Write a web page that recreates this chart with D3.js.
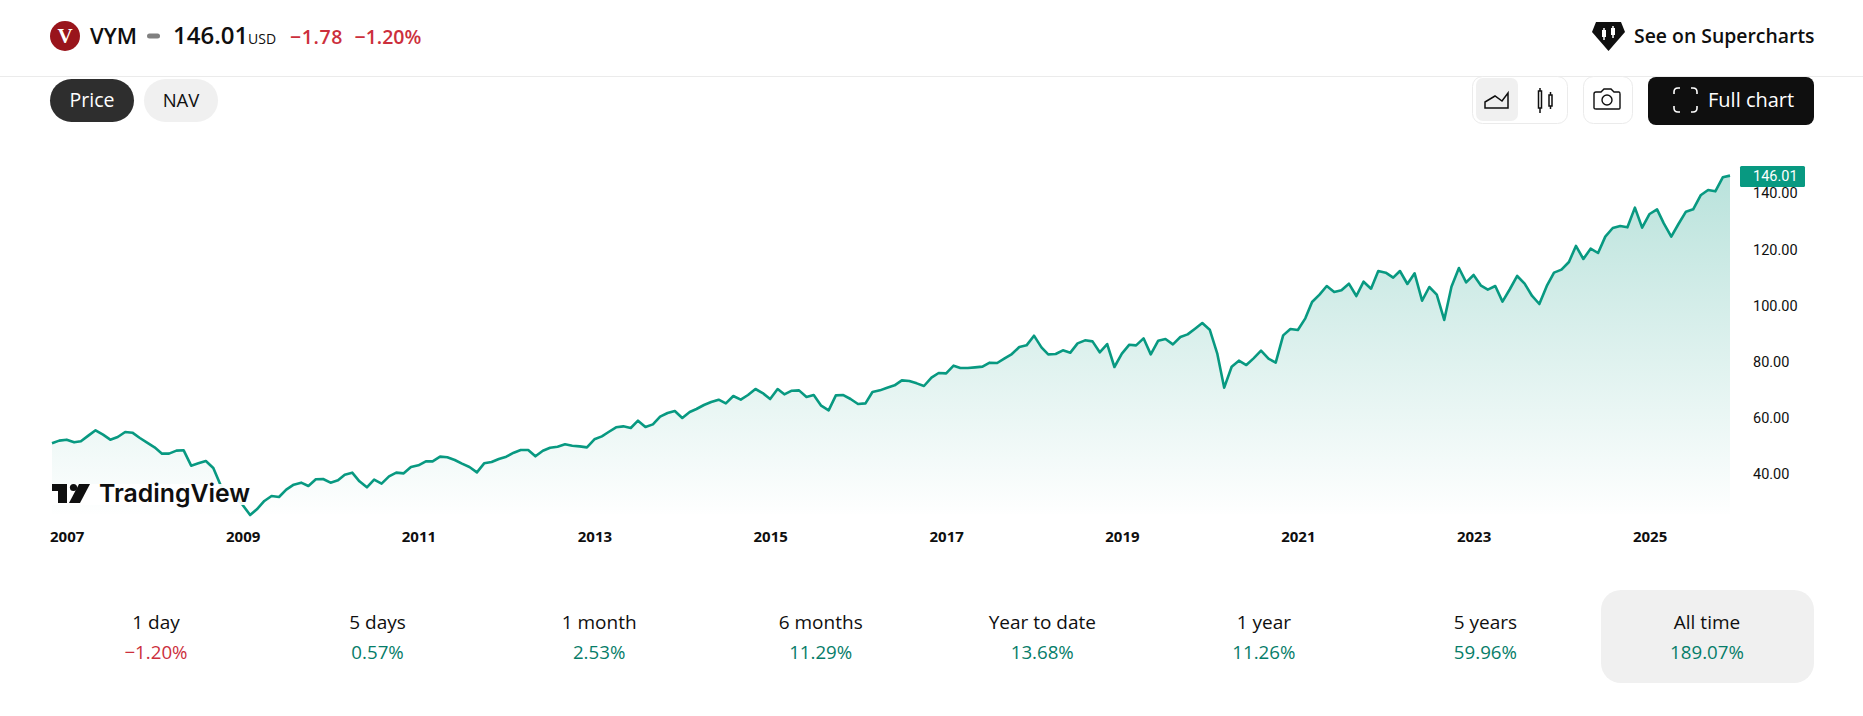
<!DOCTYPE html>
<html><head><meta charset="utf-8">
<script src="https://cdn.jsdelivr.net/npm/d3@7"></script>
<style>
html,body{margin:0;padding:0;background:#fff;width:1863px;height:716px;overflow:hidden}
svg{display:block}
text{font-family:"Open Sans","Noto Sans",sans-serif;fill:#0f0f0f}
.axis text{font-family:Roboto,"Liberation Sans",sans-serif}
</style></head><body><svg id="c" width="1863" height="716"></svg>
<script>
const prices=[50.74,51.69,52.04,51.09,51.45,53.47,55.37,53.82,52.04,52.99,54.77,54.53,52.64,50.98,49.32,47.06,47.06,48.13,48.25,42.79,43.62,44.45,41.96,35.91,32.6,31.9,28.79,25.23,27.25,30.22,32.00,31.64,34.25,36.03,36.74,35.56,37.93,38.05,36.74,37.57,39.59,40.30,37.22,35.08,37.81,36.39,39.00,40.30,40.06,42.32,42.91,44.33,44.33,45.99,45.76,44.81,43.50,42.32,40.42,43.62,44.10,45.16,
45.99,47.41,48.36,48.36,46.11,48.12,49.19,49.55,50.38,49.90,49.66,49.31,52.16,53.22,54.76,56.43,56.78,56.19,58.80,56.54,57.49,60.22,61.53,62.24,59.75,61.88,62.95,64.37,65.44,66.27,64.97,67.58,66.27,67.93,70.07,68.64,66.51,70.07,68.17,69.47,69.59,67.22,67.93,64.14,62.48,67.81,67.93,66.51,64.73,64.97,69.00,69.59,70.54,71.37,73.15,72.91,72.08,71.14,74.10,75.76,75.64,78.37,77.54,77.54,77.78,78.02,79.44,79.32,
80.98,82.52,85.01,85.61,89.05,84.89,82.40,82.52,83.83,83.00,86.32,87.39,87.03,83.12,86.08,77.90,82.64,85.84,85.61,88.10,82.40,87.27,87.86,85.96,88.57,89.52,91.54,93.55,91.18,82.76,70.54,78.01,80.15,78.61,80.98,83.71,80.86,79.44,89.16,91.42,91.06,95.21,101.03,103.64,106.72,104.59,105.18,107.55,103.16,108.26,105.77,112.06,111.47,109.69,112.06,
107.44,111.24,101.51,106.37,103.65,94.63,106.49,113.14,108.04,110.64,106.85,105.43,106.73,101.16,105.66,110.29,107.56,103.17,100.32,106.73,111.48,112.54,115.27,120.97,116.34,120.02,118.47,124.29,127.37,128.08,127.61,134.61,127.49,132.35,134.01,129.03,124.29,128.79,133.18,134.01,139.00,140.89,140.42,145.40,146.01];
const dates=prices.map((_,i)=>new Date(2006,10+i,1));
const yearTicks=[2007,2009,2011,2013,2015,2017,2019,2021,2023,2025];
const priceTicks=[40,60,80,100,120,140];
const lastPrice="146.01";
const statNames=["1 day","5 days","1 month","6 months","Year to date","1 year","5 years","All time"];
const statValues=["−1.20%","0.57%","2.53%","11.29%","13.68%","11.26%","59.96%","189.07%"];
const statUp=[false,true,true,true,true,true,true,true];

const svg=d3.select("#c");
const x=d3.scaleTime().domain([dates[0],dates[dates.length-1]]).range([52,1730]);
const y=d3.scaleLinear().domain([40,140]).range([473.5,192.5]);
const GREEN="#089981",RED="#cc2f3c";
function T(px,py,s,o={}){const t=svg.append("text").attr("x",px).attr("y",py).text(s)
 .attr("font-size",o.size||18).attr("font-weight",o.w||400).attr("text-anchor",o.a||"start");
 if(o.fill)t.style("fill",o.fill); if(o.font)t.style("font-family",o.font); if(o.ls)t.attr("letter-spacing",o.ls); return t;}

// gradient
const defs=svg.append("defs");
const g=defs.append("linearGradient").attr("id","gr").attr("gradientUnits","userSpaceOnUse").attr("x1",0).attr("x2",0).attr("y1",y(146)).attr("y2",514);
g.append("stop").attr("offset",0).attr("stop-color",GREEN).attr("stop-opacity",.28);
g.append("stop").attr("offset",1).attr("stop-color",GREEN).attr("stop-opacity",.004);

svg.append("path").datum(prices).attr("fill","url(#gr)")
 .attr("d",d3.area().x((d,i)=>x(dates[i])).y0(514).y1(d=>y(d)));
svg.append("path").datum(prices).attr("fill","none").attr("stroke",GREEN).attr("stroke-width",2.6).attr("stroke-linejoin","round")
 .attr("d",d3.line().x((d,i)=>x(dates[i])).y(d=>y(d)));

// attribution
svg.append("rect").attr("x",50).attr("y",484).attr("width",200).attr("height",21).attr("fill","#fff").attr("fill-opacity",.92);
svg.append("path").attr("fill","#0f0f0f").attr("d","M52 484H67V503H58V491H52Z");
svg.append("circle").attr("cx",73.5).attr("cy",487.5).attr("r",3.6).attr("fill","#0f0f0f");
svg.append("path").attr("fill","#0f0f0f").attr("d","M79 484H90L80 503H69Z");
T(99,502,"TradingView",{size:24.8,w:600,font:"Inter"});

// axes
const ax=d3.axisBottom(x).tickValues(yearTicks.map(v=>new Date(v,0,1))).tickFormat(d3.timeFormat("%Y")).tickSize(0);
const gx=svg.append("g").attr("class","axis").attr("transform","translate(0,529)").call(ax);
gx.select(".domain").remove();
gx.selectAll("text").attr("font-size",15).attr("font-weight",700).attr("dy","0.71em").attr("y",2).style("font-family","'Noto Sans',sans-serif");
const ay=d3.axisRight(y).tickValues(priceTicks).tickFormat(d3.format(".2f")).tickSize(0);
const gy=svg.append("g").attr("class","axis").attr("transform","translate(1753,0.8)").call(ay);
gy.select(".domain").remove();
gy.selectAll("text").attr("x",0).attr("font-size",14.5);
svg.append("rect").attr("x",1740).attr("y",166).attr("width",65).attr("height",21).attr("rx",1.5).attr("fill",GREEN);
T(1753,181,lastPrice,{size:14.5,fill:"#fff",font:"Roboto"});

// header
svg.append("line").attr("x1",0).attr("x2",1863).attr("y1",76.5).attr("y2",76.5).attr("stroke","#ebebeb");
svg.append("circle").attr("cx",65).attr("cy",36).attr("r",15).attr("fill","#99151c");
T(65,43,"V",{size:21,w:800,a:"middle",fill:"#fff",font:"Liberation Serif"});
T(90,44,"VYM",{size:22,w:600});
svg.append("rect").attr("x",147).attr("y",33.5).attr("width",13).attr("height",5).attr("rx",2.5).attr("fill","#808080");
T(173,44,"146.01",{size:24,w:600});
T(248,44,"USD",{size:14});
T(290,44,"−1.78",{size:19.5,w:600,fill:RED,ls:.6});
T(354.5,44,"−1.20%",{size:19.5,w:600,fill:RED});
// diamond
svg.append("path").attr("fill","#0f0f0f").attr("d","M1596 22H1621L1625 32L1608.5 51L1592 32Z");
svg.append("path").attr("fill","none").attr("stroke","#fff").attr("stroke-width",1.5).attr("d","M1604 28V40M1613 26V38");
svg.append("rect").attr("x",1602).attr("y",30).attr("width",4).attr("height",7).attr("fill","#fff");
svg.append("rect").attr("x",1611).attr("y",28).attr("width",4).attr("height",7).attr("fill","#fff");
T(1634,43,"See on Supercharts",{size:19.4,w:600});

// pills
svg.append("rect").attr("x",50).attr("y",79).attr("width",84).attr("height",43).attr("rx",21.5).attr("fill","#2e2e2e");
T(92,107,"Price",{size:19.5,a:"middle",fill:"#fff"});
svg.append("rect").attr("x",144).attr("y",79).attr("width",74).attr("height",43).attr("rx",21.5).attr("fill","#f0f0f0");
T(181,107,"NAV",{size:18.5,a:"middle"});

// toolbar
svg.append("rect").attr("x",1472.5).attr("y",76.5).attr("width",95).attr("height",47).attr("rx",10).attr("fill","#fff").attr("stroke","#ebebeb");
svg.append("rect").attr("x",1476).attr("y",78).attr("width",42).attr("height",43).attr("rx",7).attr("fill","#f0f0f0");
svg.append("path").attr("fill","none").attr("stroke","#0f0f0f").attr("stroke-width",1.5).attr("d","M1485 108V102L1495 96L1502 101L1508 93V108Z");
svg.append("path").attr("fill","none").attr("stroke","#0f0f0f").attr("stroke-width",1.5).attr("d","M1538.5 91H1541.5V108H1538.5ZM1540 91V88M1540 108V113M1549 95H1552V106H1549ZM1550.5 95V92M1550.5 106V109");
svg.append("rect").attr("x",1583.5).attr("y",76.5).attr("width",49).attr("height",47).attr("rx",10).attr("fill","#fff").attr("stroke","#ebebeb");
svg.append("path").attr("fill","none").attr("stroke","#0f0f0f").attr("stroke-width",1.4).attr("d","M1596 92H1601L1604 89H1611L1614 92H1619Q1620 92 1620 94V108Q1620 109 1619 109H1596Q1594 109 1594 108V94Q1594 92 1596 92Z");
svg.append("circle").attr("cx",1607).attr("cy",100).attr("r",5).attr("fill","none").attr("stroke","#0f0f0f").attr("stroke-width",1.4);
svg.append("rect").attr("x",1648).attr("y",77).attr("width",166).attr("height",48).attr("rx",8).attr("fill","#0f0f0f");
svg.append("path").attr("fill","none").attr("stroke","#fff").attr("stroke-width",1.6).attr("d","M1674 94V92Q1674 88 1678 88H1680M1691 88H1693Q1697 88 1697 92V94M1697 106V108Q1697 112 1693 112H1691M1680 112H1678Q1674 112 1674 108V106");
T(1708,107,"Full chart",{size:20,w:500,fill:"#fff"});

// stats
const sx=d3.scalePoint().domain(statNames).range([156,1707]);
svg.append("rect").attr("x",1601).attr("y",590).attr("width",213).attr("height",93).attr("rx",20).attr("fill","#f0f0f0");
statNames.forEach((n,i)=>{
 T(sx(n),629,n,{size:19,a:"middle"});
 T(sx(n),659,statValues[i],{size:18.7,w:500,a:"middle",fill:statUp[i]?"#067d69":RED});
});
</script></body></html>
